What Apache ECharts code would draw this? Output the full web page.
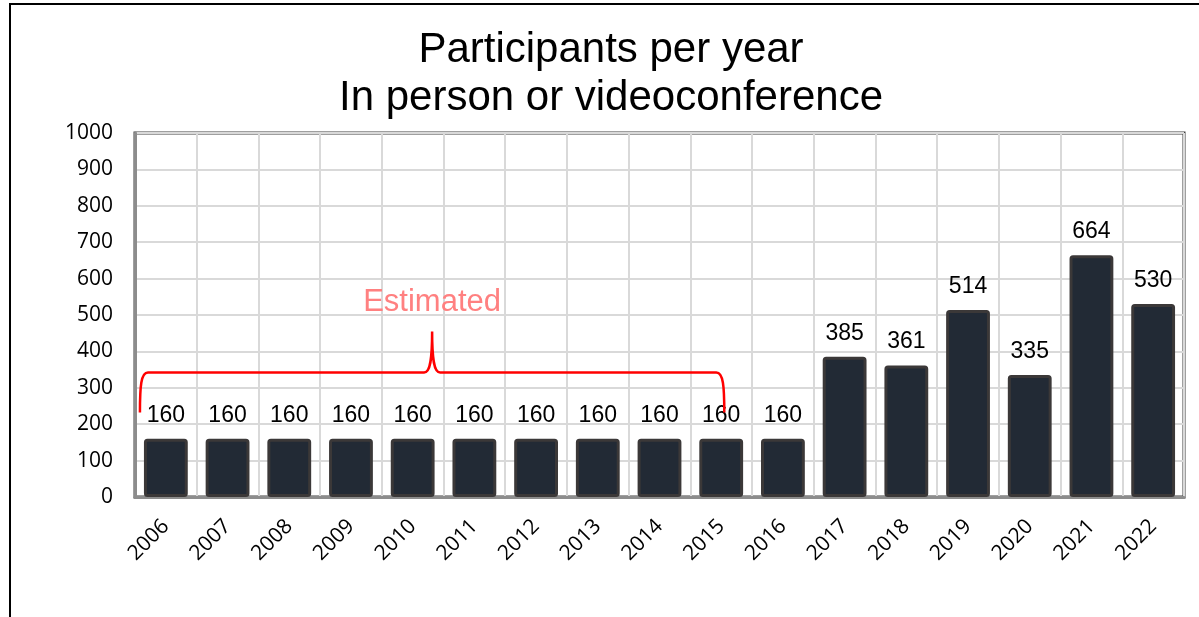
<!DOCTYPE html>
<html>
<head>
<meta charset="utf-8">
<script src="https://cdn.jsdelivr.net/npm/echarts@6/dist/echarts.min.js"></script>
<style>
html,body{margin:0;padding:0;background:#fff;}
#c{width:1199px;height:617px;}
</style>
</head>
<body>
<div id="c"></div>
<script>
// ---- data ----
const titleLines = ['Participants per year', 'In person or videoconference'];
const years = ['2006','2007','2008','2009','2010','2011','2012','2013','2014','2015','2016','2017','2018','2019','2020','2021','2022'];
const participants = [160,160,160,160,160,160,160,160,160,160,160,385,361,514,335,664,530];
const yMin = 0, yMax = 1000, yStep = 100;
const estimatedNote = 'Estimated';
const braceYears = ['2006', '2015'];        // span of estimated years
const braceValues = [232, 342, 455];        // brace ends, brace bar, brace tip (axis values)

const chart = echarts.init(document.getElementById('c'), null, {renderer: 'canvas'});

const axisFont = '"Open Sans", "Noto Sans", sans-serif';
const arial = '"Liberation Sans", Arial, sans-serif';

chart.setOption({
  animation: false,
  backgroundColor: '#ffffff',
  title: {
    text: titleLines.join('\n'),
    left: 611,
    textAlign: 'center',
    top: 26,
    padding: 0,
    textStyle: {fontSize: 42, fontWeight: 'normal', fontFamily: arial, color: '#000', lineHeight: 48}
  },
  graphic: [{
    type: 'rect',
    shape: {x: 10, y: 4, width: 1400, height: 900},
    style: {fill: null, stroke: '#000', lineWidth: 2},
    silent: true
  }],
  grid: {
    left: 135, top: 133, right: 15, bottom: 120,
    show: true, borderColor: '#404040', borderWidth: 3, backgroundColor: 'transparent',
    containLabel: false
  },
  xAxis: {
    type: 'category',
    data: years,
    axisLine: {show: true, lineStyle: {color: '#8c8c8c', width: 3}},
    axisTick: {show: false},
    axisLabel: {rotate: 45, margin: 26, fontSize: 21, color: '#000', fontFamily: axisFont, interval: 0},
    splitLine: {show: true, interval: 0, lineStyle: {color: '#d9d9d9', width: 2}}
  },
  yAxis: {
    type: 'value',
    min: yMin, max: yMax, interval: yStep,
    axisLine: {show: true, lineStyle: {color: '#8c8c8c', width: 3}},
    axisTick: {show: false},
    axisLabel: {margin: 22, fontSize: 21, color: '#000', fontFamily: axisFont, formatter: function (v) { return String(v); }},
    splitLine: {show: true, lineStyle: {color: '#d9d9d9', width: 2}}
  },
  series: [{
    type: 'bar',
    data: participants,
    barWidth: '71%',
    itemStyle: {color: '#222a35', borderColor: '#3b3838', borderWidth: 3, borderRadius: 2},
    label: {show: true, position: 'top', distance: 12, fontSize: 23, color: '#000', fontFamily: arial},
    z: 2
  }, {
    type: 'custom',
    silent: true,
    clip: false,
    z: 5,
    data: [[0, 0]],
    renderItem: function (params, api) {
      const band = api.size([1, 0])[0];
      const i0 = years.indexOf(braceYears[0]);
      const i1 = years.indexOf(braceYears[1]);
      const pS = api.coord([i0, braceValues[0]]);
      const pE = api.coord([i1, braceValues[0]]);
      const x0 = pS[0] - 0.42 * band;
      const x1 = pE[0] + 0.05 * band;
      const yEnd = pS[1];
      const yBar = api.coord([i0, braceValues[1]])[1];
      const yTip = api.coord([i0, braceValues[2]])[1];
      const xm = (x0 + x1) / 2;
      const d = 'M' + x0 + ' ' + yEnd +
        ' C' + x0 + ' ' + (yBar + 14) + ' ' + (x0 + 1) + ' ' + yBar + ' ' + (x0 + 8) + ' ' + yBar +
        ' L' + (xm - 8) + ' ' + yBar +
        ' C' + (xm - 2) + ' ' + yBar + ' ' + xm + ' ' + (yBar - 12) + ' ' + xm + ' ' + yTip +
        ' C' + xm + ' ' + (yBar - 12) + ' ' + (xm + 2) + ' ' + yBar + ' ' + (xm + 8) + ' ' + yBar +
        ' L' + (x1 - 8) + ' ' + yBar +
        ' C' + (x1 - 1) + ' ' + yBar + ' ' + x1 + ' ' + (yBar + 14) + ' ' + x1 + ' ' + yEnd;
      return {
        type: 'group',
        children: [{
          type: 'path',
          shape: {pathData: d},
          style: {fill: null, stroke: '#ff0000', lineWidth: 2.5}
        }, {
          type: 'text',
          x: xm, y: yTip - 29,
          style: {text: estimatedNote, fill: '#ff8080', fontSize: 31, fontFamily: arial, align: 'center', verticalAlign: 'middle'}
        }]
      };
    }
  }]
});
</script>
</body>
</html>
